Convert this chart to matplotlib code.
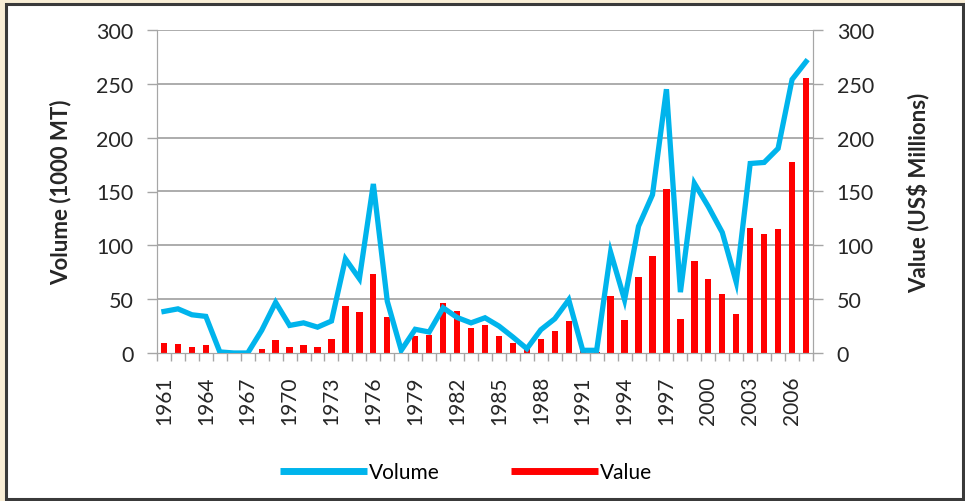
import matplotlib.pyplot as plt
import numpy as np
from matplotlib.lines import Line2D
from matplotlib.patches import Rectangle

years = list(range(1961, 2008))
volume = [38.6, 41, 35.5, 34, 1, 0, 0, 21, 47, 25.6, 28, 24, 29.7, 87.4, 69, 157,
          48, 2.5, 22, 19.5, 42, 33, 28, 32.7, 25, 14.8, 4, 21.6, 31.8, 49.4,
          2.5, 2.5, 93.6, 49.4, 117.7, 147, 245, 56.5, 157.6, 136, 112, 65.8,
          176, 177, 190, 254, 270.6]
value = [9.6, 8.3, 5.9, 7.1, 0, 0, 0, 3.4, 12, 5.9, 7.1, 5.9, 13, 44, 38, 73.5,
         33.4, 0, 15.4, 17, 46, 39, 23.5, 26, 15.4, 9.6, 4, 13.3, 20.4, 30,
         2.5, 1, 53.4, 31, 70.4, 90.2, 152, 32, 85.6, 69, 54.7, 35.8,
         116.5, 110.3, 115, 177, 255]
tick_labels = [str(y) if (y - 1961) % 3 == 0 else '' for y in years]

plt.rcParams['font.family'] = ['Lato', 'DejaVu Sans']
blue = '#00B4EC'
red = '#FF0000'
grid = '#A6A6A6'
txt = '#262626'

fig = plt.figure(figsize=(9.65, 5.02), dpi=100)
fig.patch.set_facecolor('#F9EED6')
# inner white panel with dark border
fig.patches.append(Rectangle((6 / 965, 2 / 502), 957 / 965, 495 / 502, transform=fig.transFigure,
                             facecolor='white', edgecolor='#3A3A3A', linewidth=2.2, zorder=-5))

ax = fig.add_axes([157 / 965, 1 - 354 / 502, 656 / 965, 323 / 502])
ax2 = ax.twinx()
x = np.arange(len(years))

ax2.bar(x, value, width=0.45, color=red, zorder=2)
ax.plot(x, volume, color=blue, lw=3.8, solid_joinstyle='miter', zorder=3)

ax.set_zorder(ax2.get_zorder() + 1)
ax.patch.set_visible(False)
ax2.patch.set_visible(False)

for a in (ax, ax2):
    a.set_xlim(-0.5, len(years) - 0.5)
    a.set_ylim(0, 300)
    a.set_yticks(range(0, 301, 50))
    a.spines['top'].set_visible(False)
    for s in ('left', 'right', 'bottom'):
        a.spines[s].set_color(grid)
    a.tick_params(axis='y', labelsize=15.5, colors=grid, labelcolor=txt, length=7, width=1, pad=10)

for yv in range(50, 301, 50):
    ax2.axhline(yv, color=grid, lw=1.3, zorder=0)

ax.set_xticks(x)
ax.set_xticklabels(tick_labels, rotation=90, fontsize=15, color=txt)
ax.set_xticks(np.arange(-0.5, len(years)), minor=True)
ax.tick_params(axis='x', which='major', length=0, pad=16)
ax.tick_params(axis='x', which='minor', length=6, color=grid, width=1)
ax2.tick_params(axis='x', which='both', length=0)

ax.set_ylabel('Volume (1000 MT)', fontsize=16, fontweight='bold', color=txt, labelpad=18)
ax2.set_ylabel('Value (US$ Millions)', fontsize=16, fontweight='bold', color=txt, labelpad=24)

handles = [Line2D([], [], color=blue, lw=5, solid_capstyle='butt'),
           Line2D([], [], color=red, lw=5, solid_capstyle='butt')]
fig.legend(handles, ['Volume', 'Value'], loc='center', bbox_to_anchor=(0.483, 0.058),
           ncol=2, frameon=False, fontsize=15, handlelength=4.2, handletextpad=0.1,
           columnspacing=3.4)

fig.savefig('out.png', dpi=100, facecolor=fig.get_facecolor())
